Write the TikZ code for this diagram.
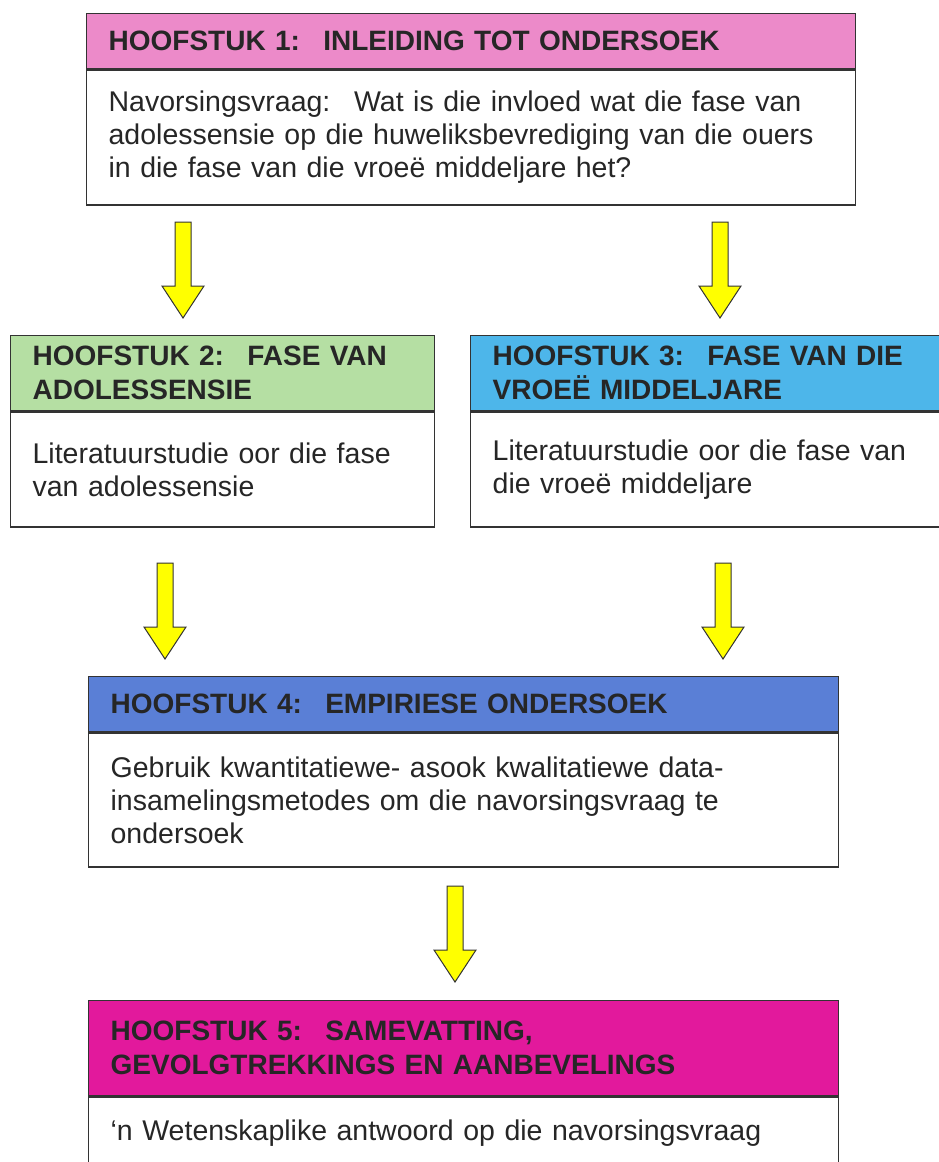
\documentclass[tikz,border=0pt]{standalone}
\usepackage{fontspec}
\setmainfont{Liberation Sans}
\usetikzlibrary{positioning}

\definecolor{pienk}{HTML}{EC8AC9}
\definecolor{groen}{HTML}{B5DFA3}
\definecolor{hemel}{HTML}{4DB6EA}
\definecolor{koning}{HTML}{5A7FD6}
\definecolor{magenta5}{HTML}{E2199C}
\definecolor{geel}{HTML}{FFFF00}
\definecolor{rand}{HTML}{333333}

\tikzset{
  kop/.style={draw=rand, line width=1.3pt, anchor=north west, align=left,
    inner xsep=22pt, inner ysep=0pt, text=black!85,
    font=\bfseries\fontsize{28}{34}\selectfont},
  lyf/.style={draw=rand, line width=1.3pt, anchor=north, align=left,
    inner xsep=22pt, inner ysep=0pt, text=black!85,
    font=\fontsize{28.5}{33}\selectfont},
  pylvorm/.style={draw=black!80, line width=1pt, fill=geel, line join=miter},
  pics/pyl/.style={code={
    \draw[pylvorm] (-8,0) -- (8,0) -- (8,64) -- (21,64) -- (0,96)
      -- (-21,64) -- (-8,64) -- cycle;}}
}

\begin{document}
\begin{tikzpicture}[x=1pt,y=-1pt]

  \useasboundingbox[fill=white] (0,0) rectangle (938,1162);

  % hoofstuk 1
  \node[kop, fill=pienk, text width=725pt, minimum height=55pt] (k1) at (86,13)
    {HOOFSTUK 1:~ INLEIDING TOT ONDERSOEK};
  \node[lyf, below=0pt of k1, text width=725pt, minimum height=135pt] (k1t)
    {Navorsingsvraag:~ Wat is die invloed wat die fase van\\
     adolessensie op die huweliksbevrediging van die ouers\\
     in die fase van die vroeë middeljare het?};

  % hoofstuk 2 en 3
  \node[kop, fill=groen, text width=380pt, minimum height=75pt] (k2) at (10,335)
    {HOOFSTUK 2:~ FASE VAN\\ADOLESSENSIE};
  \node[lyf, below=0pt of k2, text width=380pt, minimum height=115pt] (k2t)
    {Literatuurstudie oor die fase\\van adolessensie};

  \node[kop, fill=hemel, text width=431pt, minimum height=75pt] (k3) at (470,335)
    {HOOFSTUK 3:~ FASE VAN DIE\\VROEË MIDDELJARE};
  \node[lyf, below=0pt of k3, text width=431pt, minimum height=115pt] (k3t)
    {Literatuurstudie oor die fase van\\die vroeë middeljare};

  % hoofstuk 4
  \node[kop, fill=koning, text width=706pt, minimum height=55pt] (k4) at (88,676)
    {HOOFSTUK 4:~ EMPIRIESE ONDERSOEK};
  \node[lyf, below=0pt of k4, text width=706pt, minimum height=134pt] (k4t)
    {Gebruik kwantitatiewe- asook kwalitatiewe data-\\
     insamelingsmetodes om die navorsingsvraag te\\
     ondersoek};

  % hoofstuk 5
  \node[kop, fill=magenta5, text width=706pt, minimum height=95pt] (k5) at (88,1000)
    {HOOFSTUK 5:~ SAMEVATTING,\\GEVOLGTREKKINGS EN AANBEVELINGS};
  \node[lyf, below=0pt of k5, text width=706pt, minimum height=72pt] (k5t)
    {‘n Wetenskaplike antwoord op die navorsingsvraag};

  % pyle
  \pic at (183,222) {pyl};
  \pic at (720,222) {pyl};
  \pic at (165,563) {pyl};
  \pic at (723,563) {pyl};
  \pic at (455,886) {pyl};

\end{tikzpicture}
\end{document}
